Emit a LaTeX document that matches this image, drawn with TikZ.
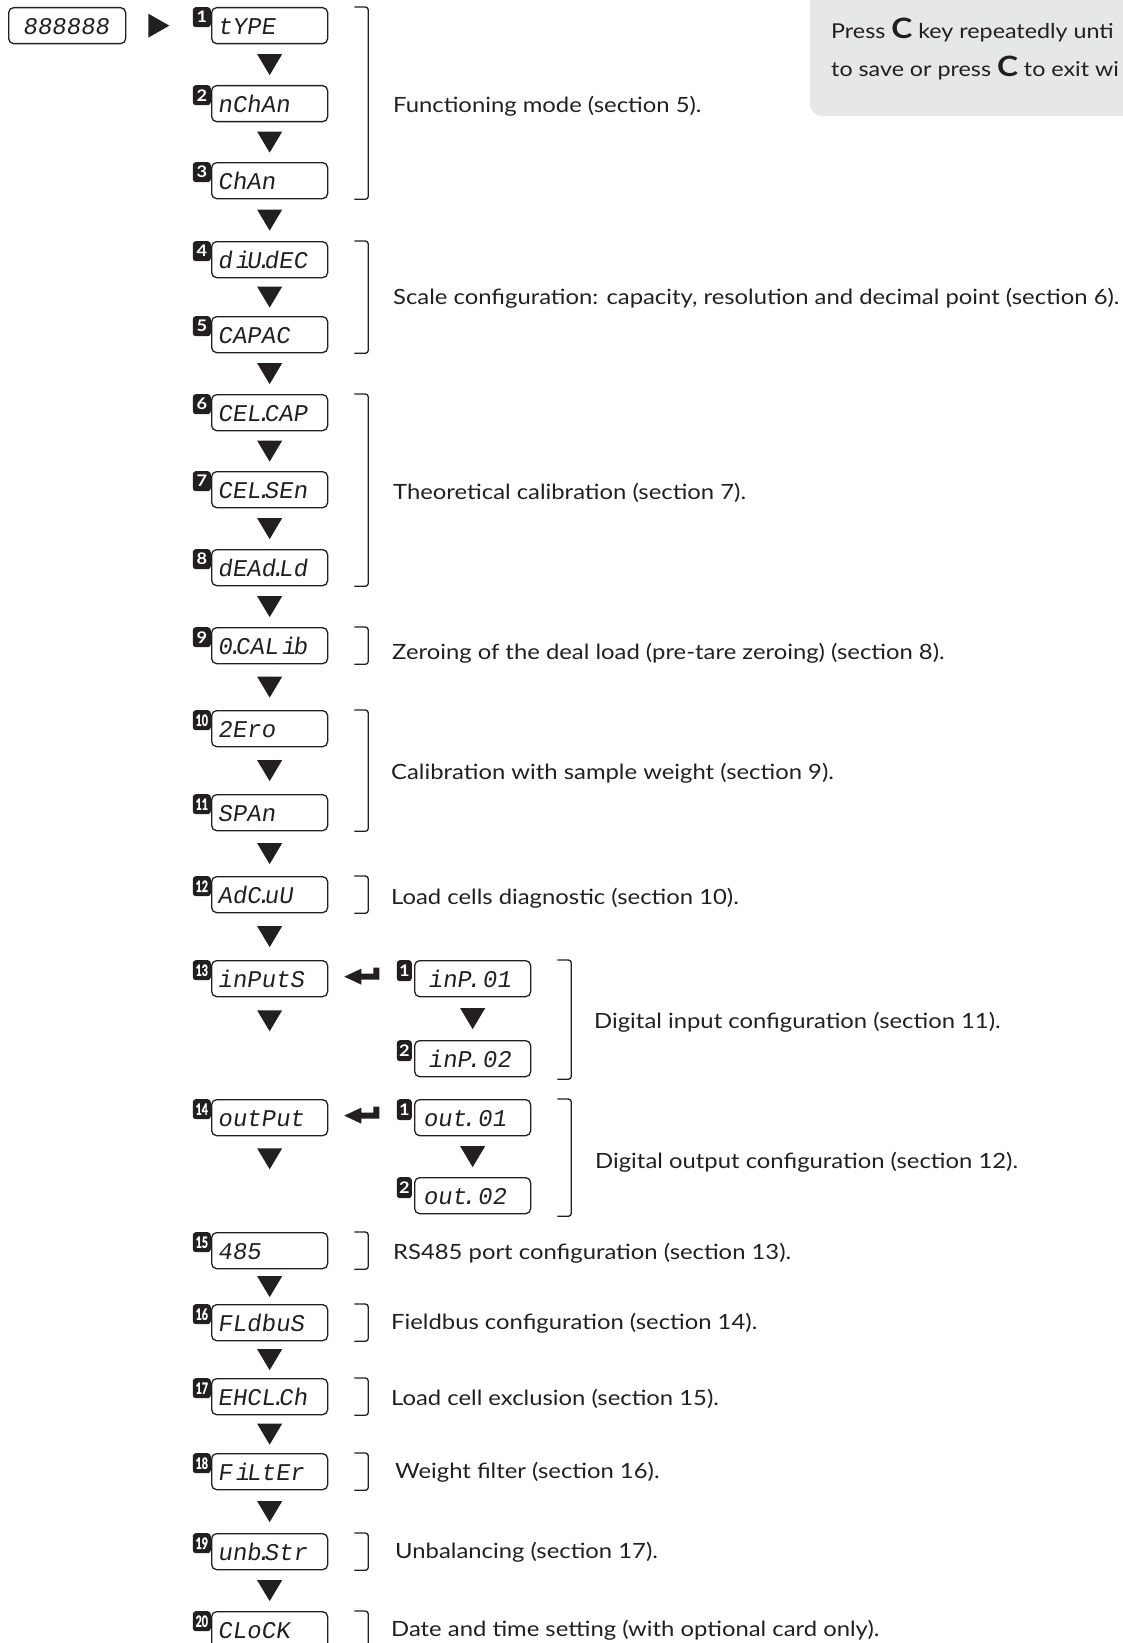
\documentclass[tikz,border=0pt]{standalone}
\usepackage{fontspec}
\setmainfont{Lato}[FakeStretch=1.135]
\newfontfamily\segfont{Liberation Mono}[FakeSlant=0.15]
\newfontfamily\condfont{Lato}[FakeStretch=0.68, FakeBold=1.6]
\usetikzlibrary{calc}
\definecolor{ink}{HTML}{231F20}
\definecolor{panel}{HTML}{E6E7E8}
\newcommand\sd{\kern-.2em.\kern-.27em}
\newcommand\ri{\kern.12em i\kern-.12em }
\begin{document}
\begin{tikzpicture}[x=1pt,y=-1pt,
  disp/.style={draw=ink, line width=1.3pt, rounded corners=5pt, minimum width=116pt,
    minimum height=36pt, text width=104pt, text height=17.5pt, text depth=0pt, align=left,
    inner sep=0pt, anchor=north west, text=ink, font=\segfont\fontsize{24}{24}\selectfont},
  badge/.style={fill=ink, rounded corners=3pt, minimum width=18pt, minimum height=20pt,
    inner sep=0pt, anchor=north east, text=white, font=\bfseries\fontsize{16}{16}\selectfont},
  badgeb/.style={badge, font=\condfont\bfseries\fontsize{15.5}{15.5}\selectfont},
  sbadge/.style={badge, minimum width=15pt, minimum height=21pt},
  brk/.style={draw=ink, line width=1.3pt, rounded corners=3pt},
  lbl/.style={anchor=west, inner sep=0pt, text=ink, font=\fontsize{21}{24}\selectfont},
  tri/.style={fill=ink}]
\clip (0,0) rectangle (1123,1643);
\useasboundingbox (0,0) rectangle (1123,1643);

% info panel
\fill[panel, rounded corners=12pt] (810,-30) rectangle (1160,116);
\node[anchor=base west, inner sep=0pt, text=ink, font=\fontsize{20.5}{24}\selectfont] (p1) at (831,38.5)
  {Press {\bfseries\fontsize{28}{28}\selectfont C} key repeatedly unti};
\node[anchor=base west, inner sep=0pt, text=ink, font=\fontsize{20.5}{24}\selectfont] (p2) at (831,77)
  {to save or press {\bfseries\fontsize{28}{28}\selectfont C} to exit wi};

% start display
\node[disp, minimum width=117pt, text width=89pt] (d0) at (8,7) {888888};

% main column
\node[disp] (b1) at (211,7) {tYPE};
\node[disp] (b2) at (211,85) {nChAn};
\node[disp] (b3) at (211,162) {ChAn};
\node[disp] (b4) at (211,241) {d\ri U\sd dEC};
\node[disp] (b5) at (211,316) {CAPAC};
\node[disp] (b6) at (211,394) {CEL\sd CAP};
\node[disp] (b7) at (211,471) {CEL\sd SEn};
\node[disp] (b8) at (211,549) {dEAd\sd Ld};
\node[disp] (b9) at (211,627) {0\sd CAL\ri b};
\node[disp] (b10) at (211,710) {2Ero};
\node[disp] (b11) at (211,794) {SPAn};
\node[disp] (b12) at (211,876) {AdC\sd uU};
\node[disp] (b13) at (211,960) {inPutS};
\node[disp] (b14) at (211,1099) {outPut};
\node[disp] (b15) at (211,1232) {485};
\node[disp] (b16) at (211,1304) {FLdbuS};
\node[disp] (b17) at (211,1378) {EHCL\sd Ch};
\node[disp] (b18) at (211,1453) {F\ri LtEr};
\node[disp] (b19) at (211,1533) {unb\sd Str};
\node[disp] (b20) at (211,1611) {CLoCK};

% sub displays
\node[disp] (s1) at (414,960) {\kern.3em inP\sd\ 01};
\node[disp] (s2) at (414,1040) {\kern.3em inP\sd\ 02};
\node[disp] (o1) at (414,1099) {\kern.1em out\sd\ 01};
\node[disp] (o2) at (414,1177) {\kern.1em out\sd\ 02};

% badges
\foreach \i in {1,...,9} {\node[badge] (n\i) at (b\i.north west) {\i};}
\foreach \i in {10,...,20} {\node[badgeb] (n\i) at (b\i.north west) {\i};}
\node[sbadge] (ns1) at ($(s1.north west)+(-2,0)$) {1};
\node[sbadge] (ns2) at ($(s2.north west)+(-2,0)$) {2};
\node[sbadge] (no1) at ($(o1.north west)+(-2,0)$) {1};
\node[sbadge] (no2) at ($(o2.north west)+(-2,0)$) {2};

% right arrow from start display
\fill[tri] ($(d0.east)+(22,-12)$) -- ++(21,12) -- ++(-21,12) -- cycle;

% down triangles between consecutive boxes
\foreach \a/\b in {b1/b2,b2/b3,b3/b4,b4/b5,b5/b6,b6/b7,b7/b8,b8/b9,b9/b10,b10/b11,b11/b12,b12/b13,
                   b15/b16,b16/b17,b17/b18,b18/b19,b19/b20,s1/s2,o1/o2} {
  \fill[tri] ($(\a.south)!0.5!(\b.north)+(-12.5,-10.5)$) -- ++(25,0) -- ++(-12.5,21) -- cycle;
}
\fill[tri] ($(b13.south)+(-12.5,13)$) -- ++(25,0) -- ++(-12.5,21) -- cycle;
\fill[tri] ($(b14.south)+(-12.5,12)$) -- ++(25,0) -- ++(-12.5,21) -- cycle;

% return arrows
\foreach \m in {b13,b14} {
  \fill[tri] ($(\m.east)+(16,-2)$) -- ++(17,-8) -- ++(0,5) -- ++(12,0) -- ++(0,-6) -- ++(6,0)
     -- ++(0,12) -- ++(-18,0) -- ++(0,5) -- cycle;
}

% brackets
\draw[brk] ($(b1.north east)+(26,0)$) -- ++(14,0) |- ($(b3.south east)+(26,0)$);
\draw[brk] ($(b4.north east)+(26,0)$) -- ++(14,0) |- ($(b5.south east)+(26,0)$);
\draw[brk] ($(b6.north east)+(26,0)$) -- ++(14,0) |- ($(b8.south east)+(26,0)$);
\draw[brk] ($(b9.north east)+(26,0)$) -- ++(14,0) |- ($(b9.south east)+(26,0)$);
\draw[brk] ($(b10.north east)+(26,0)$) -- ++(14,0) |- ($(b11.south east)+(26,0)$);
\draw[brk] ($(b12.north east)+(26,0)$) -- ++(14,0) |- ($(b12.south east)+(26,0)$);
\draw[brk] ($(s1.north east)+(26,0)$) -- ++(14,0) |- ($(s2.south east)+(26,2)$);
\draw[brk] ($(o1.north east)+(26,0)$) -- ++(14,0) |- ($(o2.south east)+(26,2)$);
\foreach \i in {15,...,20} {
  \draw[brk] ($(b\i.north east)+(26,0)$) -- ++(14,0) |- ($(b\i.south east)+(26,0)$);
}

% labels
\node[lbl] (t1) at (393,106) {Functioning mode (section 5).};
\node[lbl] (t2) at (393,298.5) {Scale configuration: capacity, resolution and decimal point (section 6).};
\node[lbl] (t3) at (393,493) {Theoretical calibration (section 7).};
\node[lbl] (t4) at (392,653.5) {Zeroing of the deal load (pre-tare zeroing) (section 8).};
\node[lbl] (t5) at (391,773) {Calibration with sample weight (section 9).};
\node[lbl] (t6) at (391,898) {Load cells diagnostic (section 10).};
\node[lbl] (t7) at (594,1022) {Digital input configuration (section 11).};
\node[lbl] (t8) at (595,1162) {Digital output configuration (section 12).};
\node[lbl] (t9) at (393,1253) {RS485 port configuration (section 13).};
\node[lbl] (t10) at (391,1323) {Fieldbus configuration (section 14).};
\node[lbl] (t11) at (391,1398.5) {Load cell exclusion (section 15).};
\node[lbl] (t12) at (395,1472) {Weight filter (section 16).};
\node[lbl] (t13) at (395,1552.5) {Unbalancing (section 17).};
\node[lbl] (t14) at (391,1630) {Date and time setting (with optional card only).};
\end{tikzpicture}
\end{document}
